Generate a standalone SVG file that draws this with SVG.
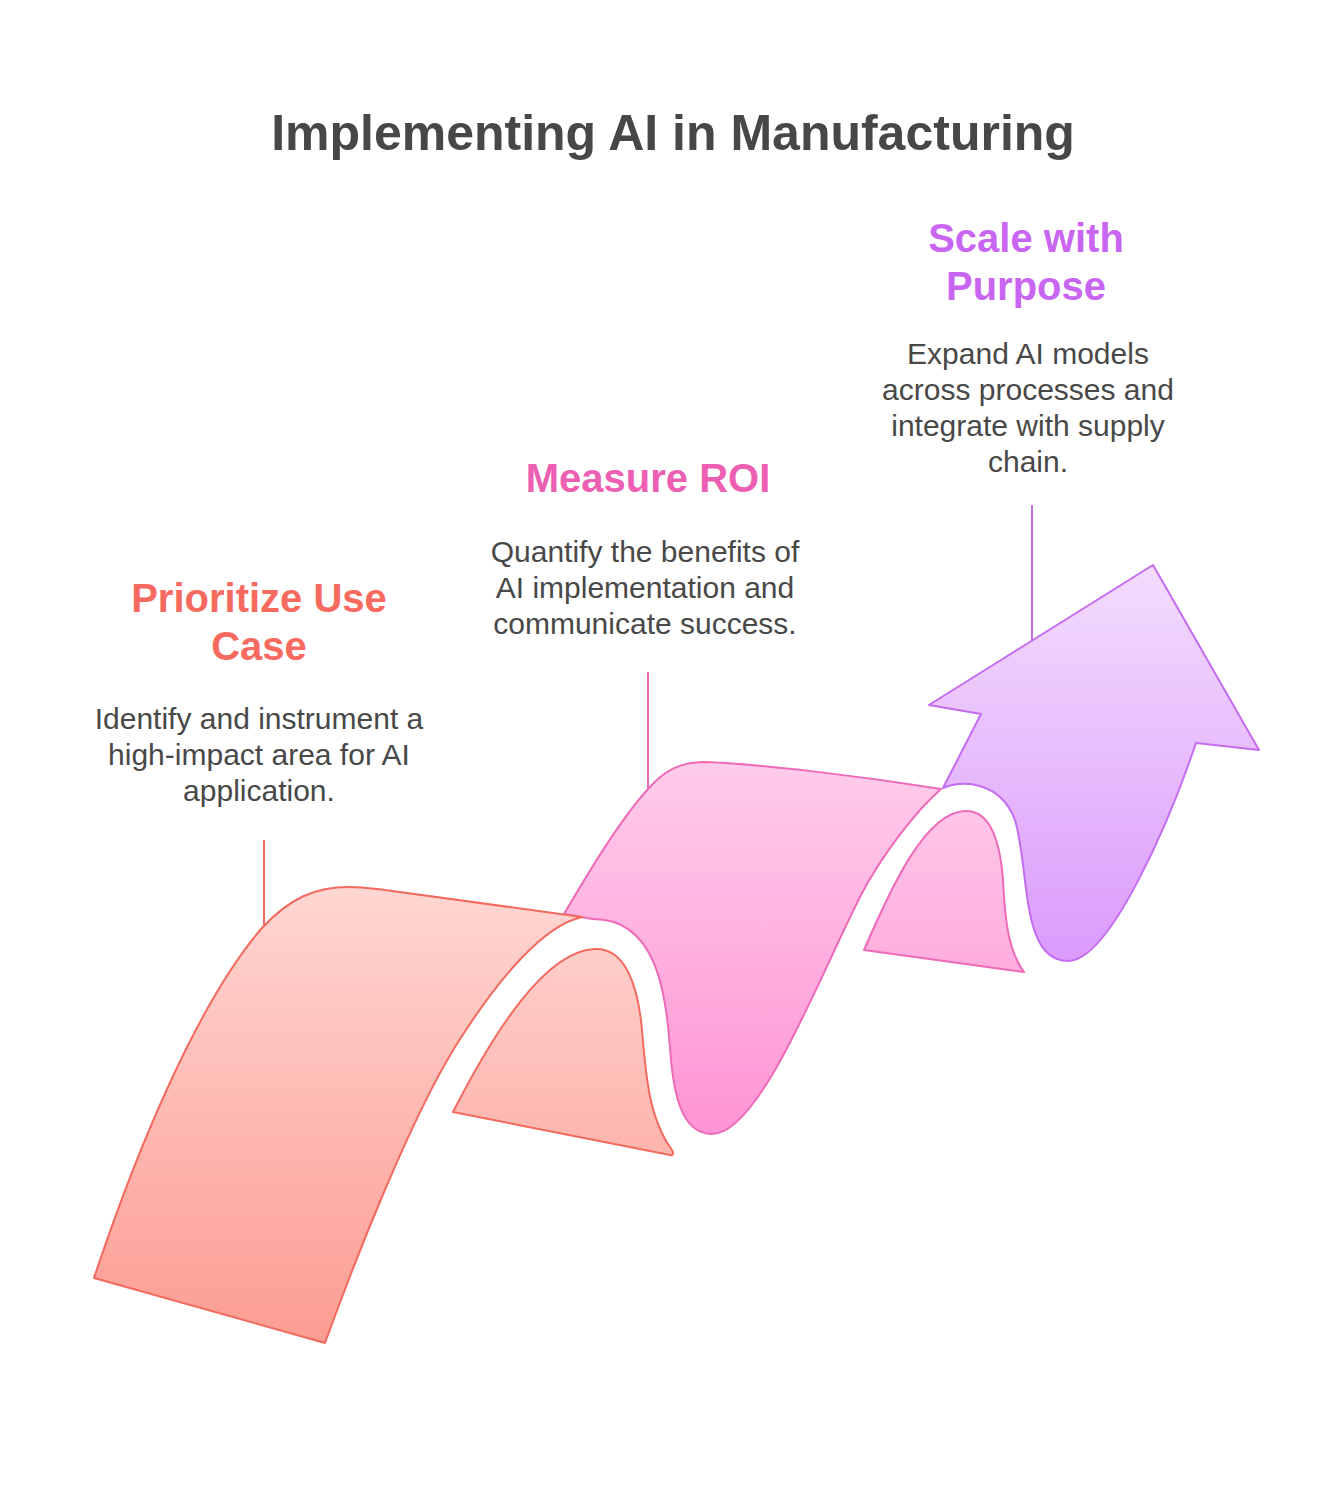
<svg xmlns="http://www.w3.org/2000/svg" width="1344" height="1488" viewBox="0 0 1344 1488">
<defs>
<linearGradient id="gSalmon" gradientUnits="userSpaceOnUse" x1="0" y1="887" x2="0" y2="1343">
<stop offset="0" stop-color="#FFD6D3"/><stop offset="1" stop-color="#FC9C92"/>
</linearGradient>
<linearGradient id="gPink" gradientUnits="userSpaceOnUse" x1="0" y1="762" x2="0" y2="1134">
<stop offset="0" stop-color="#FFCCEA"/><stop offset="1" stop-color="#FF94D4"/>
</linearGradient>
<linearGradient id="gPurple" gradientUnits="userSpaceOnUse" x1="0" y1="565" x2="0" y2="961">
<stop offset="0" stop-color="#F3DCFD"/><stop offset="1" stop-color="#DB9BFC"/>
</linearGradient>
</defs>
<style>
.title{font-family:"Liberation Sans",Arial,sans-serif;font-weight:bold;font-size:50px;fill:#474747;text-anchor:middle}
.head{font-family:"Liberation Sans",Arial,sans-serif;font-weight:bold;font-size:40px;text-anchor:middle}
.body{font-family:"Liberation Sans",Arial,sans-serif;font-size:30px;fill:#484848;text-anchor:middle}
.s{stroke-width:2;stroke-linejoin:round}
.salmon{fill:url(#gSalmon);stroke:#F26A5E}
.pink{fill:url(#gPink);stroke:#EE6AB9}
.purple{fill:url(#gPurple);stroke:#C46CF1}
.lnS{stroke:#F26A5E;stroke-width:2}
.lnP{stroke:#EE6AB9;stroke-width:2}
.lnU{stroke:#C46CF1;stroke-width:2}
</style>
<rect width="1344" height="1488" fill="#FFFFFF"/>
<text class="title" x="673" y="150">Implementing AI in Manufacturing</text>

<g id="connectors">
<line class="lnS" x1="264" y1="840" x2="264" y2="930"/>
<line class="lnP" x1="648" y1="672" x2="648" y2="790"/>
<line class="lnU" x1="1032" y1="505" x2="1032" y2="641"/>
</g>

<g id="scale-with-purpose">
<path class="s purple" d="M 943 788 C 960 780 1000 780 1015 820 C 1030 870 1020 961 1068 961 C 1110 961 1170 820 1196 743 L 1259 750 L 1153 565 L 929 705 L 981 714 Z"/>
<text class="head" x="1026" y="252" fill="#C866F2">Scale with</text>
<text class="head" x="1026" y="300" fill="#C866F2">Purpose</text>
<text class="body" x="1028" y="364">Expand AI models</text>
<text class="body" x="1028" y="400">across processes and</text>
<text class="body" x="1028" y="436">integrate with supply</text>
<text class="body" x="1028" y="472">chain.</text>
</g>

<g id="measure-roi">
<path class="s pink" d="M 864 950 C 890 890 925 812 965 811 C 990 810 1000 840 1003 880 C 1005 920 1008 950 1024 972 Z"/>
<path class="s pink" d="M 564 914 C 590 870 620 820 648 789 C 665 770 680 762 705 762 C 760 764 860 776 941 789 C 915 812 882 855 861 895 C 820 975 760 1134 712 1134 C 680 1134 673 1090 670 1048 C 666 990 655 918 592 919 Z"/>
<text class="head" x="648" y="492" fill="#EC5FB2">Measure ROI</text>
<text class="body" x="645" y="562">Quantify the benefits of</text>
<text class="body" x="645" y="598">AI implementation and</text>
<text class="body" x="645" y="634">communicate success.</text>
</g>

<g id="prioritize-use-case">
<path class="s salmon" d="M 453 1112 C 495 1030 545 952 594 949 C 625 947 638 985 642 1030 C 646 1080 650 1120 672 1150 Q 675 1156 670 1155 Z"/>
<path class="s salmon" d="M 94 1278 C 140 1140 200 1000 262 928 C 290 898 315 887 349 887 C 365 887 375 889 385 890 L 582 917 C 545 925 500 975 455 1047 C 410 1120 355 1260 325 1343 Z"/>
<text class="head" x="259" y="612" fill="#F76A60">Prioritize Use</text>
<text class="head" x="259" y="660" fill="#F76A60">Case</text>
<text class="body" x="259" y="729">Identify and instrument a</text>
<text class="body" x="259" y="765">high-impact area for AI</text>
<text class="body" x="259" y="801">application.</text>
</g>
</svg>
